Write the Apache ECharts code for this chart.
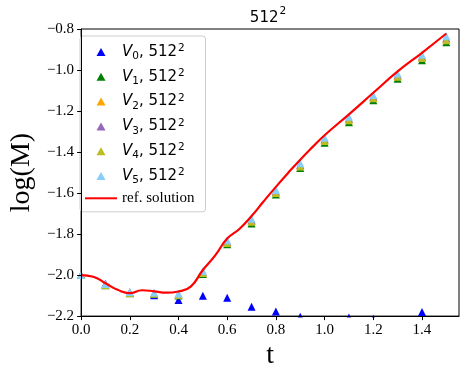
<!DOCTYPE html>
<html><head><meta charset="utf-8">
<script src="https://cdn.jsdelivr.net/npm/echarts@6/dist/echarts.min.js"></script>
<style>html,body{margin:0;padding:0;background:#fff}#c{width:466px;height:375px}</style>
</head><body><div id="c"></div>
<script>
// ---- data ----
const tRef = [0, 0.05, 0.1, 0.15, 0.2, 0.25, 0.3, 0.35, 0.4, 0.45, 0.5, 0.55, 0.6, 0.65, 0.7, 0.75, 0.8, 0.85, 0.9, 0.95, 1.0, 1.1, 1.2, 1.3, 1.4, 1.5];
const refVals = [-2.0, -2.008, -2.04, -2.072, -2.088, -2.074, -2.079, -2.086, -2.08, -2.056, -1.975, -1.905, -1.822, -1.775, -1.712, -1.64, -1.57, -1.502, -1.437, -1.376, -1.318, -1.216, -1.111, -1.007, -0.916, -0.822];
const tMarks = [0, 0.1, 0.2, 0.3, 0.4, 0.5, 0.6, 0.7, 0.8, 0.9, 1.0, 1.1, 1.2, 1.3, 1.4, 1.5];
const v0 = [-2.0, -2.042, -2.085, -2.098, -2.121, -2.101, -2.111, -2.155, -2.177, -2.203, -2.26, -2.207, -2.213, -2.26, -2.18, -2.27];
const v1 = [-2.0, -2.05, -2.089, -2.092, -2.1, -1.995, -1.85, -1.748, -1.607, -1.478, -1.355, -1.255, -1.148, -1.042, -0.952, -0.865];
const v2 = [-2.0, -2.047, -2.086, -2.089, -2.095, -1.987, -1.84, -1.735, -1.595, -1.466, -1.341, -1.24, -1.133, -1.028, -0.937, -0.848];
const v3 = [-2.0, -2.046, -2.085, -2.088, -2.093, -1.985, -1.838, -1.732, -1.592, -1.463, -1.338, -1.237, -1.13, -1.025, -0.934, -0.845];
const v4 = [-2.0, -2.048, -2.087, -2.09, -2.097, -1.99, -1.843, -1.74, -1.6, -1.47, -1.346, -1.245, -1.138, -1.033, -0.942, -0.855];
const v5 = [-2.0, -2.044, -2.083, -2.085, -2.09, -1.98, -1.83, -1.725, -1.585, -1.455, -1.33, -1.228, -1.122, -1.017, -0.925, -0.835];
const seriesNames = ['V₀, 512²', 'V₁, 512²', 'V₂, 512²', 'V₃, 512²', 'V₄, 512²', 'V₅, 512²', 'ref. solution'];
const titleText = '512²';
const xName = 't';
const yName = 'log(M)';

// ---- styling ----
const colors = ['#0000ff', '#008000', '#ffa500', '#9467bd', '#bcbd22', '#87cefa'];
const G = {left: 72, top: 29, right: 7, bottom: 58};
const W = 466, H = 375;
const serif = 'Liberation Serif';
const sans = 'DejaVu Sans';
// legend icons (32x8 box): a centered triangle, and a short line
const triIcon = 'path://M0,0M32,8M11.5,8L16,0L20.5,8Z';
const lineIcon = 'path://M0,0M32,8M0,3L32,3L32,5L0,5Z';

function fmt(v) {
  const k = v / 0.2;
  if (Math.abs(k - Math.round(k)) > 1e-6) return '';
  const s = Math.abs(v).toFixed(1);
  return (v < -1e-9 ? '\u2212' : '') + s;
}

const markSets = [v0, v1, v2, v3, v4, v5];
const series = markSets.map((vals, i) => ({
  name: seriesNames[i],
  type: 'scatter',
  symbol: 'triangle',
  symbolSize: 8,
  clip: false,
  z: 2 + i * 0.01,
  itemStyle: {color: colors[i], opacity: 1},
  data: tMarks.map((t, j) => [t, vals[j]])
}));
series.push({
  name: seriesNames[6],
  type: 'line',
  smooth: 0.5,
  symbol: 'none',
  showSymbol: false,
  z: 3,
  lineStyle: {color: '#ff0000', width: 2.2},
  itemStyle: {color: '#ff0000'},
  data: tRef.map((t, j) => [t, refVals[j]])
});

const legendData = seriesNames.map((n, i) => i < 6 ? {name: n, icon: triIcon} : {name: n, icon: lineIcon});

const chart = echarts.init(document.getElementById('c'), null, {renderer: 'canvas'});
chart.setOption({
  animation: false,
  backgroundColor: '#fff',
  title: {
    text: '{a|512}{b|2}',
    left: 263, top: -1, textAlign: 'center',
    textStyle: {
      fontWeight: 'normal',
      rich: {
        a: {fontFamily: sans, fontSize: 15, fontWeight: 'normal', color: '#000', lineHeight: 22, verticalAlign: 'bottom'},
        b: {fontFamily: sans, fontSize: 10.5, fontWeight: 'normal', color: '#000', lineHeight: 22, verticalAlign: 'top', padding: [2, 0, 0, 1]}
      }
    }
  },
  grid: {left: G.left, top: G.top, right: G.right, bottom: G.bottom, show: true, borderColor: '#000', borderWidth: 1, backgroundColor: 'transparent'},
  legend: {
    orient: 'vertical', left: 80, top: 36,
    padding: [6, 11, 6, 5],
    itemWidth: 32, itemHeight: 8, itemGap: 4.8,
    symbolKeepAspect: true,
    backgroundColor: 'rgba(255,255,255,0.8)',
    borderColor: '#cccccc', borderWidth: 1, borderRadius: 3,
    data: legendData,
    formatter: function (name) {
      const i = seriesNames.indexOf(name);
      if (i < 6) return '{v|V}{s|' + i + '}{n|, 512}{p|2}';
      return '{r|' + name + '}';
    },
    textStyle: {
      color: '#000',
      rich: {
        v: {fontFamily: sans, fontStyle: 'italic', fontSize: 15, lineHeight: 20, color: '#000'},
        s: {fontFamily: sans, fontSize: 10.5, lineHeight: 20, verticalAlign: 'bottom', color: '#000'},
        n: {fontFamily: sans, fontSize: 15, lineHeight: 20, color: '#000'},
        p: {fontFamily: sans, fontSize: 10.5, lineHeight: 20, verticalAlign: 'top', color: '#000', padding: [1, 0, 0, 1]},
        r: {fontFamily: serif, fontSize: 15, lineHeight: 20, color: '#000'}
      }
    }
  },
  xAxis: {
    type: 'value', min: 0, max: 1.552, interval: 0.2, z: 200,
    name: xName, nameLocation: 'middle', nameGap: 10,
    nameTextStyle: {fontFamily: serif, fontSize: 28, color: '#000'},
    axisLine: {show: true, onZero: false, lineStyle: {color: '#000', width: 1}},
    axisTick: {show: true, inside: false, length: 4, lineStyle: {color: '#000'}},
    axisLabel: {formatter: fmt, fontFamily: serif, fontSize: 15, color: '#000', margin: 6, showMaxLabel: false},
    splitLine: {show: false}
  },
  yAxis: {
    type: 'value', min: -2.2, max: -0.8, interval: 0.2, z: 200,
    name: yName, nameLocation: 'middle', nameGap: 39, nameRotate: 90,
    nameTextStyle: {fontFamily: serif, fontSize: 28, color: '#000'},
    axisLine: {show: true, onZero: false, lineStyle: {color: '#000', width: 1}},
    axisTick: {show: true, inside: false, length: 4, lineStyle: {color: '#000'}},
    axisLabel: {formatter: fmt, fontFamily: serif, fontSize: 15, color: '#000', margin: 7},
    splitLine: {show: false}
  },
  graphic: [
    {type: 'rect', z: 100, silent: true, shape: {x: 0, y: 0, width: G.left - 0.5, height: H}, style: {fill: '#fff'}},
    {type: 'rect', z: 100, silent: true, shape: {x: 0, y: H - G.bottom + 0.5, width: W, height: G.bottom}, style: {fill: '#fff'}}
  ],
  series: series
});
</script>
</body></html>
